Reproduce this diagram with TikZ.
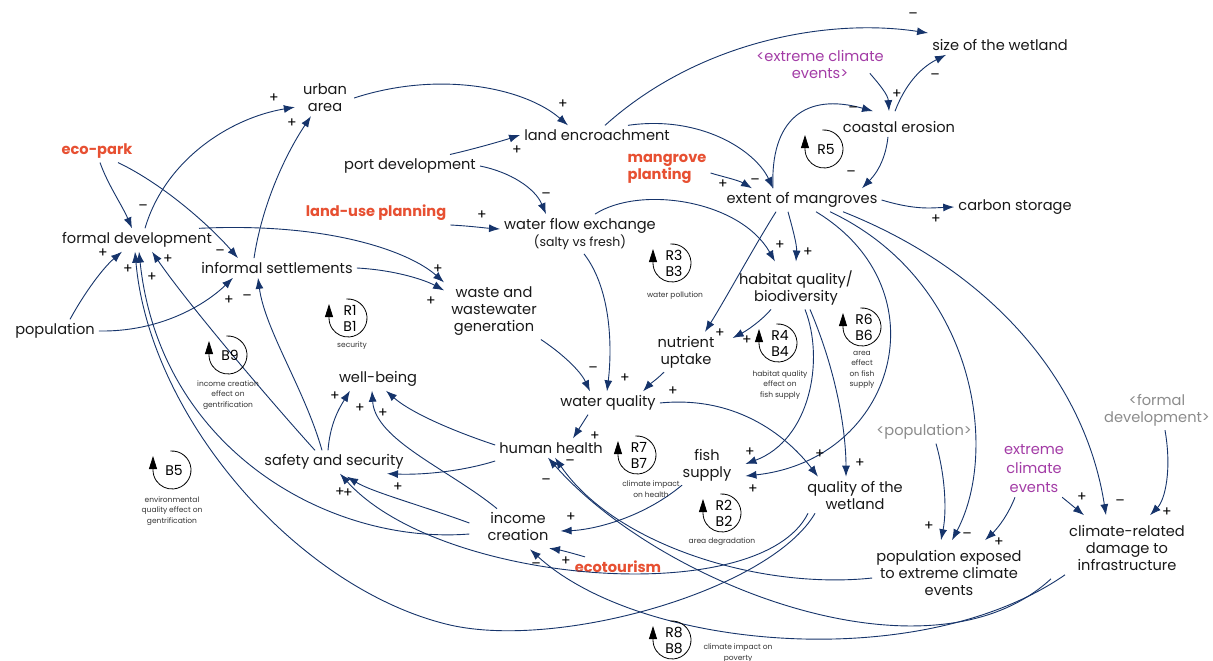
\documentclass[tikz,border=0pt]{standalone}
\usepackage{fontspec}
\setmainfont{Poppins}
\usetikzlibrary{arrows.meta}
\definecolor{navy}{RGB}{22,52,107}
\definecolor{lever}{RGB}{231,80,50}
\definecolor{hazard}{RGB}{163,60,166}
\definecolor{ghost}{RGB}{140,140,140}
\newcommand\fsz[2]{\fontsize{#1}{#2}\selectfont}

\begin{document}
\begin{tikzpicture}[x=1pt, y=-1pt,
   var/.style={inner sep=4pt, align=center, text=black!90, font=\fsz{14.6}{17}},
   lever/.style={var, text=lever, font=\fsz{14.6}{17}\bfseries},
   hazard/.style={var, text=hazard},
   ghost/.style={var, text=ghost},
   link/.style={navy, line width=0.9pt, -{Latex[length=11pt,width=8pt]}},
   sign/.style={inner sep=0pt, font=\fsz{14}{14}},
   loopid/.style={align=center, inner sep=0pt, font=\fsz{14}{16}},
   loopcap/.style={align=center, inner sep=0pt, text=black!80, font=\fsz{7.5}{10.5}}]
   \fill[white] (0,0) rectangle (1213,661);
   \useasboundingbox (0,0) rectangle (1213,661);

   % variables
   \node[var] (urban) at (325,98) {urban\\area};
   \node[lever] (ecopark) at (97,151) {eco-park};
   \node[var] (formal) at (137,240) {formal development};
   \node[var] (informal) at (277,268) {informal settlements};
   \node[var] (pop) at (55,331) {population};
   \node[var] (port) at (410,166) {port development};
   \node[var] (encroach) at (597,135) {land encroachment};
   \node[lever] (landuse) at (376,213) {land-use planning};
   \node[var] (flow) at (580,234) {water flow exchange\\{\fsz{12.5}{15}(salty vs fresh)}};
   \node[lever, align=left] (planting) at (667,169) {mangrove\\planting};
   \node[hazard] (xclim) at (820,65) {<extreme climate\\events>};
   \node[var] (size) at (1000,45) {size of the wetland};
   \node[var] (erosion) at (899,127) {coastal erosion};
   \node[var] (mangroves) at (802,200) {extent of mangroves};
   \node[var] (carbon) at (1015,207) {carbon storage};
   \node[var] (habitat) at (796,288) {habitat quality/\\biodiversity};
   \node[var] (waste) at (494,311) {waste and\\wastewater\\generation};
   \node[var] (nutrient) at (686,352) {nutrient\\uptake};
   \node[var] (wellbeing) at (378,379) {well-being};
   \node[var] (wquality) at (608,403) {water quality};
   \node[var] (health) at (551,448) {human health};
   \node[var] (fish) at (707,465) {fish\\supply};
   \node[var] (wetland) at (855,495) {quality of the\\wetland};
   \node[var] (safety) at (334,462) {safety and security};
   \node[var] (income) at (518,527) {income\\creation};
   \node[lever] (tourism) at (618,567) {ecotourism};
   \node[ghost] (popg) at (924,432) {<population>};
   \node[ghost] (formalg) at (1157,410) {<formal\\development>};
   \node[hazard, font=\fsz{14.6}{19}] (events) at (1034,469) {extreme\\climate\\events};
   \node[var] (exposed) at (949,573) {population exposed\\to extreme climate\\events};
   \node[var] (damage) at (1127,548) {climate-related\\damage to\\infrastructure};

   % links
   \draw[link] ([xshift=3pt]ecopark.south) .. controls (108,185) and (122,205) .. ([xshift=-5pt]formal.north);
   \draw[link] ([xshift=21pt]ecopark.south) .. controls (165,185) and (212,228) .. ([xshift=-39pt]informal.north);
   \draw[link] ([xshift=8pt]formal.north) .. controls (165,160) and (230,118) .. ([xshift=-4pt,yshift=9pt]urban.south west);
   \draw[link] ([xshift=-23pt]informal.north) .. controls (262,205) and (285,155) .. ([xshift=-14pt]urban.south);
   \draw[link] ([xshift=15pt]pop.north) .. controls (85,292) and (103,268) .. ([xshift=-15pt]formal.south);
   \draw[link] (pop.east) .. controls (160,332) and (205,305) .. ([xshift=-44pt]informal.south);
   \draw[link] ([xshift=62pt]formal.north) .. controls (330,222) and (410,252) .. ([xshift=-3pt]waste.north west);
   \draw[link] (informal.east) .. controls (395,270) and (425,280) .. ([xshift=-3pt,yshift=-8pt]waste.north west);
   \draw[link] ([xshift=3pt]urban.east) .. controls (440,70) and (525,88) .. ([xshift=-29pt]encroach.north);
   \draw[link] ([xshift=40pt]port.north) .. controls (478,148) and (505,140) .. (encroach.west);
   \draw[link] (port.east) .. controls (510,172) and (535,188) .. ([xshift=-34pt]flow.north);
   \draw[link] ([yshift=-12pt]landuse.east) .. controls (470,226) and (485,228) .. ([yshift=5pt]flow.west);
   \draw[link] ([xshift=8pt]encroach.north) .. controls (700,40) and (830,18) .. ([yshift=12pt]size.west);
   \draw[link] ([xshift=31pt]encroach.north) .. controls (700,115) and (755,150) .. ([xshift=-29pt]mangroves.north);
   \draw[link] ([yshift=-4pt]planting.east) .. controls (720,176) and (738,180) .. ([xshift=-50pt]mangroves.north);
   \draw[link] ([xshift=-18pt,yshift=10pt]xclim.south east) .. controls (880,85) and (888,95) .. ([xshift=-10pt,yshift=6pt]erosion.north);
   \draw[link] ([xshift=-4pt,yshift=6pt]erosion.north) .. controls (905,85) and (920,68) .. ([xshift=18pt]size.south west);
   \draw[link] ([xshift=-29pt]mangroves.north) .. controls (770,120) and (805,92) .. ([xshift=-26pt,yshift=6pt]erosion.north);
   \draw[link] ([xshift=-11pt]erosion.south) .. controls (885,165) and (872,178) .. ([xshift=60pt]mangroves.north);
   \draw[link] (mangroves.east) .. controls (915,210) and (930,208) .. (carbon.west);
   \draw[link] ([xshift=15pt]flow.north) .. controls (640,185) and (740,200) .. ([xshift=-21pt,yshift=5pt]habitat.north);
   \draw[link] ([xshift=-14pt]mangroves.south) .. controls (793,230) and (797,245) .. ([yshift=5pt]habitat.north);
   \draw[link] ([xshift=-26pt]mangroves.south) .. controls (755,245) and (725,300) .. ([xshift=19pt]nutrient.north);
   \draw[link] ([xshift=-25pt]habitat.south) .. controls (762,320) and (748,330) .. ([xshift=14pt,yshift=14pt]nutrient.east);
   \draw[link] ([xshift=4pt]flow.south) .. controls (612,290) and (612,350) .. ([xshift=-1pt]wquality.north);
   \draw[link] (waste.south east) .. controls (560,352) and (580,370) .. ([xshift=-18pt]wquality.north);
   \draw[link] ([xshift=-22pt]nutrient.south) .. controls (656,380) and (650,384) .. ([xshift=35pt]wquality.north);
   \draw[link] ([xshift=-20pt]wquality.south) -- ([xshift=22pt]health.north);
   \draw[link] (wquality.east) .. controls (740,395) and (790,440) .. ([xshift=-37pt]wetland.north);
   \draw[link] ([xshift=9pt]habitat.south) .. controls (825,360) and (810,440) .. ([xshift=10pt,yshift=1pt]fish.east);
   \draw[link] ([xshift=14pt]mangroves.south) .. controls (945,290) and (895,460) .. ([xshift=10pt,yshift=-11pt]fish.east);
   \draw[link] ([xshift=14pt]habitat.south) .. controls (840,380) and (846,440) .. ([xshift=-9pt]wetland.north);
   \draw[link] ([xshift=28pt]mangroves.south) .. controls (975,280) and (1000,450) .. ([xshift=3pt,yshift=6pt]exposed.north);
   \draw[link] ([xshift=12pt]popg.south) .. controls (945,475) and (947,510) .. ([xshift=-8pt,yshift=6pt]exposed.north);
   \draw[link] ([xshift=-19pt]events.south) .. controls (1008,515) and (998,528) .. ([xshift=36pt,yshift=6pt]exposed.north);
   \draw[link] ([xshift=-6pt]events.south east) -- ([xshift=-43pt,yshift=6pt]damage.north);
   \draw[link] ([xshift=41pt]mangroves.south) .. controls (990,270) and (1085,380) .. ([xshift=-21pt,yshift=6pt]damage.north);
   \draw[link] ([xshift=8pt]formalg.south) .. controls (1172,470) and (1165,500) .. ([xshift=23pt,yshift=6pt]damage.north);
   \draw[link] ([xshift=-25pt]fish.south) .. controls (640,520) and (590,530) .. ([xshift=8pt,yshift=-4pt]income.east);
   \draw[link] ([xshift=-33pt]tourism.north) .. controls (572,553) and (560,550) .. ([xshift=31pt,yshift=-3pt]income.south);
   \draw[link] (damage.south west) .. controls (920,675) and (640,650) .. ([xshift=12pt,yshift=-4pt]income.south);
   \draw[link] ([xshift=-14pt,yshift=-4pt]damage.south west) .. controls (930,690) and (660,585) .. ([xshift=-3pt]health.south);
   \draw[link] ([yshift=-5pt]exposed.west) .. controls (760,590) and (615,545) .. ([xshift=4pt]health.south);
   \draw[link] ([xshift=-47pt]wetland.south) .. controls (760,610) and (440,585) .. ([xshift=6pt]safety.south);
   \draw[link] ([xshift=-14pt,yshift=4pt]income.west) .. controls (420,505) and (372,492) .. ([xshift=13pt,yshift=-3pt]safety.south);
   \draw[link] ([xshift=-21pt]income.north) .. controls (450,470) and (375,440) .. ([xshift=-6pt]wellbeing.south);
   \draw[link] ([yshift=3pt]health.west) .. controls (450,430) and (410,412) .. ([xshift=8pt]wellbeing.south);
   \draw[link] ([xshift=-6pt]safety.north) .. controls (330,425) and (338,410) .. ([xshift=-28pt]wellbeing.south);
   \draw[link] ([yshift=-13pt]health.west) .. controls (460,472) and (420,475) .. ([xshift=53pt]safety.south);
   \draw[link] ([xshift=-14pt,yshift=-7pt]income.west) .. controls (330,545) and (160,450) .. ([xshift=2pt]formal.south);
   \draw[link] ([xshift=-40pt]wetland.south) .. controls (770,590) and (560,650) .. (450,625) .. controls (300,590) and (150,420) .. ([xshift=-2pt]formal.south);
   \draw[link] ([xshift=-19pt]safety.north) .. controls (265,395) and (185,300) .. ([xshift=15pt]formal.south);
   \draw[link] ([xshift=-12pt]safety.north) .. controls (305,390) and (265,330) .. ([xshift=-19pt]informal.south);

   % polarities
   \foreach \x/\y [count=\i] in {274/98, 292/123, 103/253, 128/269, 152/277, 168/259, 229/300, 438/269, 431/301,
      563/104, 517/150, 482/215, 897/94, 723/184, 936/219, 780/245, 808/252, 720/333, 747/340, 625/378, 673/391,
      595/436, 335/396, 360/408, 383/413, 398/487, 340/492, 348/493, 750/452, 753/489, 820/454, 860/463, 571/517,
      566/561, 929/526, 999/542, 1082/497, 1167/512}
      \node[sign] (plus\i) at (\x,\y) {+};
   \foreach \x/\y [count=\i] in {143/208, 220/253, 247/298, 546/196, 913/16, 935/77, 853/110, 851/174, 755/182,
      593/370, 570/463, 546/482, 536/566, 967/536, 1120/503}
      \node[sign] (minus\i) at (\x,\y) {--};

   % loops
   \foreach \n/\x/\y/\lab in {r5/824/149/R5, r3/672/263/R3\\B3, r1/348/318/R1\\B1, r4/778/343/R4\\B4,
      r6/862/327/R6\\B6, b9/228/355/B9, b5/172/470/B5, r7/637/455/R7\\B7, r2/722/513/R2\\B2, r8/672/640/R8\\B8} {
      \draw[line width=0.8pt, -{Triangle[length=13pt,width=8pt]}] (\x,\y) ++(95:19pt)
         arc[start angle=95, end angle=-180, radius=19pt] -- ++(0pt,14pt);
      \node[loopid] (\n) at (\x+2,\y) {\lab};
   }
   \node[loopcap] (r3cap) at (675,296) {water pollution};
   \node[loopcap] (r1cap) at (352,346) {security};
   \node[loopcap] (r4cap) at (780,385) {habitat quality\\effect on\\fish supply};
   \node[loopcap] (r6cap) at (862,370) {area\\effect\\on fish\\supply};
   \node[loopcap] (b9cap) at (228,395) {income creation\\effect on\\gentrification};
   \node[loopcap] (b5cap) at (172,511) {environmental\\quality effect on\\gentrification};
   \node[loopcap] (r7cap) at (651,489) {climate impact\\on health};
   \node[loopcap] (r2cap) at (722,542) {area degradation};
   \node[loopcap] (r8cap) at (738,653) {climate impact on\\poverty};
\end{tikzpicture}
\end{document}
